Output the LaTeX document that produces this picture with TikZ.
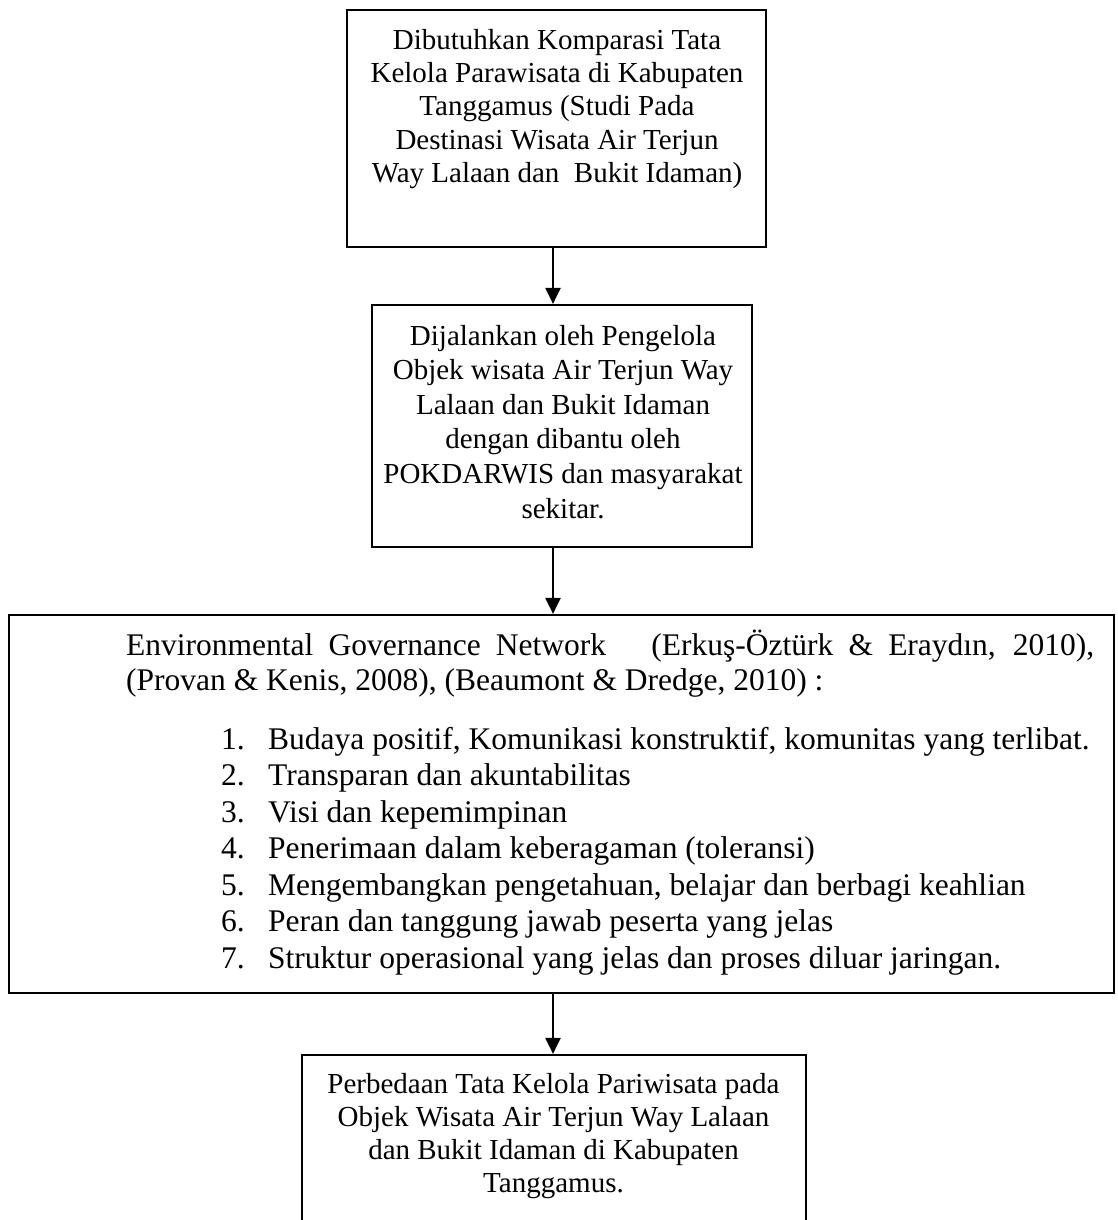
\documentclass[tikz,border=0pt]{standalone}
\usepackage{fontspec}
\setmainfont{Liberation Serif}
\usetikzlibrary{arrows.meta}
\begin{document}
\begin{tikzpicture}[x=1pt,y=-1pt,
  box/.style={draw, line width=2.2pt, inner sep=0pt, rectangle},
  txt/.style={inner sep=0pt, font=\fontsize{29}{33}\selectfont},
  txtb/.style={inner sep=0pt, font=\fontsize{31.5}{36}\selectfont},
  arr/.style={line width=2.2pt, -{Triangle[length=16pt,width=15pt]}}]
\useasboundingbox (0,0) rectangle (1117,1220);
% boxes
\node[box, minimum width=419pt, minimum height=237pt] (b1) at (556.5,128.5) {};
\node[box, minimum width=380pt, minimum height=242pt] (b2) at (562,426) {};
\node[box, minimum width=1105pt, minimum height=378pt] (b3) at (561.5,804) {};
\node[box, minimum width=504pt, minimum height=190pt] (b4) at (554,1150) {};
\coordinate (ax) at (553,0);
% arrows
\draw[arr] (b1.south -| ax) -- (b2.north -| ax);
\draw[arr] (b2.south -| ax) -- (b3.north -| ax);
\draw[arr] (b3.south -| ax) -- (b4.north -| ax);
% box 1 text
\foreach \t [count=\i] in {Dibutuhkan Komparasi Tata,Kelola Parawisata di Kabupaten,Tanggamus (Studi Pada,Destinasi Wisata Air Terjun,Way Lalaan dan\ \ Bukit Idaman)}
  \node[txt, anchor=base] (t1-\i) at (557,{49.5+33.2*(\i-1)}) {\t};
% box 2 text
\foreach \t [count=\i] in {Dijalankan oleh Pengelola,Objek wisata Air Terjun Way,Lalaan dan Bukit Idaman,dengan dibantu oleh,POKDARWIS dan masyarakat,sekitar.}
  \node[txt, anchor=base] (t2-\i) at (563,{345+34.6*(\i-1)}) {\t};
% box 3 text
\node[txtb, anchor=base west] (t3-1) at (126,655) {\makebox[968pt][s]{Environmental Governance Network\hspace*{30pt} (Erkuş-Öztürk \& Eraydın, 2010),}};
\node[txtb, anchor=base west] (t3-2) at (126,690) {(Provan \& Kenis, 2008), (Beaumont \& Dredge, 2010) :};
\foreach \t [count=\i] in {Budaya positif{,} Komunikasi konstruktif{,} komunitas yang terlibat.,Transparan dan akuntabilitas,Visi dan kepemimpinan,Penerimaan dalam keberagaman (toleransi),Mengembangkan pengetahuan{,} belajar dan berbagi keahlian,Peran dan tanggung jawab peserta yang jelas,Struktur operasional yang jelas dan proses diluar jaringan.}
{
  \node[txtb, anchor=base west] (n3-\i) at (221,{749+36.5*(\i-1)}) {\i.};
  \node[txtb, anchor=base west] (i3-\i) at (268,{749+36.5*(\i-1)}) {\t};
}
% box 4 text
\foreach \t [count=\i] in {Perbedaan Tata Kelola Pariwisata pada,Objek Wisata Air Terjun Way Lalaan,dan Bukit Idaman di Kabupaten,Tanggamus.}
  \node[txt, anchor=base] (t4-\i) at (553.5,{1093+33.3*(\i-1)}) {\t};
\end{tikzpicture}
\end{document}
